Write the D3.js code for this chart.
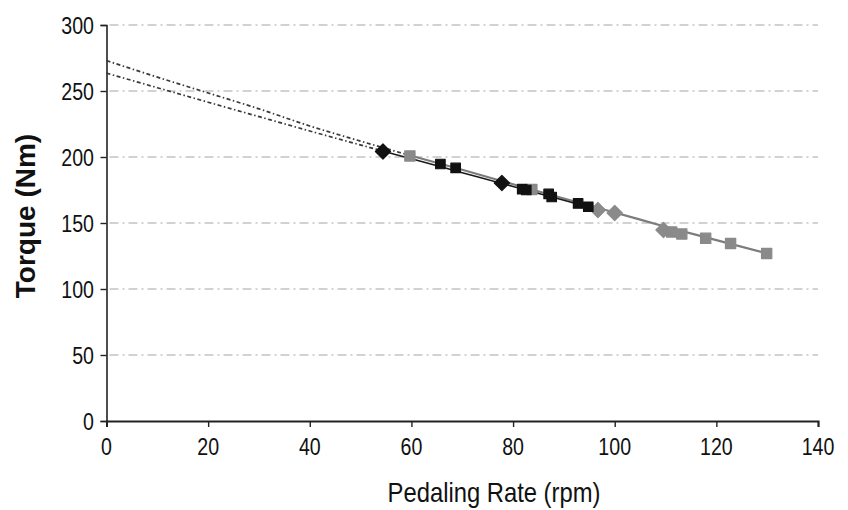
<!DOCTYPE html>
<html>
<head>
<meta charset="utf-8">
<script src="https://cdn.jsdelivr.net/npm/d3@7"></script>
<style>
  html, body { margin: 0; padding: 0; background: #fff; }
  svg { display: block; }
  .tick-label { font-family: "Liberation Sans", Arial, sans-serif; font-size: 24.5px; fill: #111; }
  .x-title { font-family: "Liberation Sans", Arial, sans-serif; font-size: 28px; fill: #111; }
  .y-title { font-family: "Liberation Sans", Arial, sans-serif; font-weight: bold; font-size: 28px; fill: #111; }
</style>
</head>
<body>
<svg id="chart" width="848" height="510"></svg>
<script>
// Pedaling rate (rpm) and torque (Nm) measurements, two groups
const darkRate   = [54.4, 65.7, 68.7, 77.8, 81.8, 82.6, 87.0, 87.6, 92.8, 94.8];
const darkTorque = [204.2, 194.7, 191.7, 180.3, 175.6, 175.0, 172.0, 169.7, 164.8, 162.3];
const darkShape  = ["diamond", "square", "square", "diamond", "square", "square", "square", "square", "square", "square"];

const greyRate   = [59.7, 83.7, 96.7, 100.0, 109.6, 111.2, 113.2, 117.9, 122.8, 129.9];
const greyTorque = [200.8, 175.4, 159.8, 157.6, 144.7, 143.2, 141.7, 138.4, 134.5, 126.9];
const greyShape  = ["square", "square", "diamond", "diamond", "diamond", "square", "square", "square", "square", "square"];

// Fitted torque-rate relationships, read at regular rates
const greyFitRate   = [0, 10, 20, 30, 40, 50, 59.7, 70, 80, 90, 100, 110, 120, 129.9];
const greyFitTorque = [273, 260.5, 248.5, 236.5, 223.5, 212, 201.2, 190.3, 179.4, 168.6, 158, 147.2, 137, 127];
const darkFitRate   = [0, 10, 20, 30, 40, 54.4, 60, 70, 80, 90, 94.8];
const darkFitTorque = [263.5, 252.5, 241.5, 230.6, 219.7, 204.5, 198.6, 188.1, 177.6, 167.2, 162.2];

const xTicks = [0, 20, 40, 60, 80, 100, 120, 140];
const yTicks = [0, 50, 100, 150, 200, 250, 300];

const svg = d3.select("#chart");
const x = d3.scaleLinear().domain([0, 140]).range([106.5, 818]);
const y = d3.scaleLinear().domain([0, 300]).range([421, 25]);

// horizontal dash-dot gridlines
svg.append("g").selectAll("line")
  .data(yTicks.filter(d => d > 0))
  .join("line")
  .attr("x1", x(0) + 3).attr("x2", x(140))
  .attr("y1", d => y(d)).attr("y2", d => y(d))
  .attr("stroke", "#c4c4c4").attr("stroke-width", 1.6)
  .attr("stroke-dasharray", "9,4,2,4");

// y axis
const yAxis = svg.append("g").attr("transform", `translate(${x(0)},0)`)
  .call(d3.axisLeft(y).tickValues(yTicks).tickSize(6).tickFormat(""));
yAxis.select(".domain").attr("stroke", "#222").attr("stroke-width", 1.6);
yAxis.selectAll(".tick line").attr("stroke", "#222").attr("stroke-width", 1.4);
// condensed labels: horizontally squeezed sans
svg.append("g").selectAll("text")
  .data(yTicks).join("text")
  .attr("class", "tick-label")
  .attr("transform", d => `translate(94,${y(d) + 8.5}) scale(0.8,1)`)
  .attr("text-anchor", "end")
  .text(d => d);

// x axis
const xAxis = svg.append("g").attr("transform", `translate(0,${y(0)})`)
  .call(d3.axisBottom(x).tickValues(xTicks).tickSize(6).tickFormat(""));
xAxis.select(".domain").attr("stroke", "#222").attr("stroke-width", 2);
xAxis.selectAll(".tick line").attr("stroke", "#222").attr("stroke-width", 1.4);
svg.append("g").selectAll("text")
  .data(xTicks).join("text")
  .attr("class", "tick-label")
  .attr("transform", d => `translate(${x(d)},455) scale(0.8,1)`)
  .attr("text-anchor", "middle")
  .text(d => d);

// axis titles
svg.append("text").attr("class", "x-title")
  .attr("transform", "translate(494,502) scale(0.85,1)")
  .attr("text-anchor", "middle")
  .text("Pedaling Rate (rpm)");
svg.append("text").attr("class", "y-title")
  .attr("transform", "translate(35,216) rotate(-90)")
  .attr("text-anchor", "middle")
  .text("Torque (Nm)");

// fitted curves: dotted extrapolation towards zero rate, solid over the measured range
const line = d3.line().x(d => x(d[0])).y(d => y(d[1])).curve(d3.curveMonotoneX);
function drawFit(rates, torques, startRate, color, width) {
  const pts = rates.map((r, i) => [r, torques[i]]);
  svg.append("path")
    .attr("d", line(pts.filter(p => p[0] <= startRate)))
    .attr("fill", "none").attr("stroke", "#3a3a3a").attr("stroke-width", 1.7)
    .attr("stroke-dasharray", "4,2.5,1.5,2.5");
  svg.append("path")
    .attr("d", line(pts.filter(p => p[0] >= startRate)))
    .attr("fill", "none").attr("stroke", color).attr("stroke-width", width);
}
drawFit(greyFitRate, greyFitTorque, 59.7, "#7c7c7c", 2.2);
drawFit(darkFitRate, darkFitTorque, 54.4, "#1a1a1a", 1.6);

// markers: squares, and diamonds drawn as squares turned 45 degrees
const squarePath = d3.symbol().type(d3.symbolSquare);
function drawPoints(rates, torques, kinds, sqSize, dmSize, fill) {
  svg.append("g").selectAll("path")
    .data(rates.map((r, i) => ({ r, t: torques[i], k: kinds[i] })))
    .join("path")
    .attr("d", d => squarePath.size(d.k === "diamond" ? dmSize : sqSize)())
    .attr("transform", d => `translate(${x(d.r)},${y(d.t)})` + (d.k === "diamond" ? " rotate(45)" : ""))
    .attr("fill", fill)
    .attr("stroke", fill).attr("stroke-width", 1.2).attr("stroke-linejoin", "round");
}
drawPoints(greyRate, greyTorque, greyShape, 105, 115, "#8a8a8a");
drawPoints(darkRate, darkTorque, darkShape, 90, 115, "#111");
</script>
</body>
</html>
